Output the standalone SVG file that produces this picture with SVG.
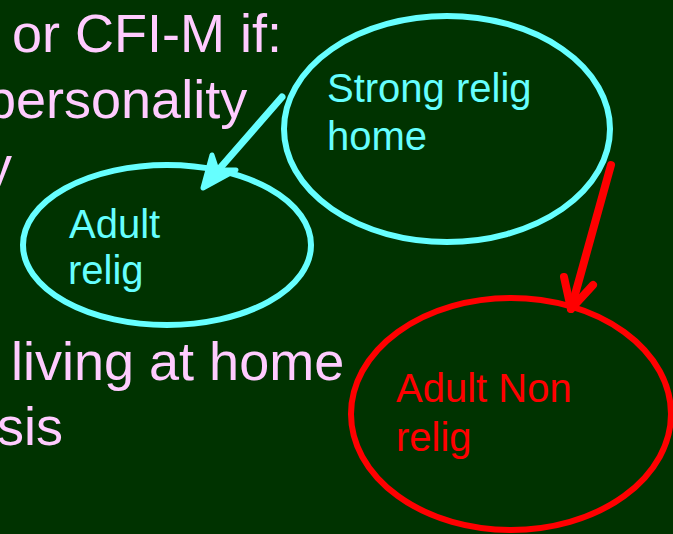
<svg xmlns="http://www.w3.org/2000/svg" width="673" height="534" viewBox="0 0 673 534">
<style>
.bg{fill:#003300}
.slide{font-family:"Liberation Sans",Arial,sans-serif;font-size:54px;fill:#FFCCFF}
.lbl{font-family:"Liberation Sans",Arial,sans-serif;font-size:40px}
.cy{fill:#66FFFF}
.rd{fill:#FF0000}
.ecy{fill:none;stroke:#66FFFF;stroke-width:6}
.erd{fill:none;stroke:#FF0000;stroke-width:6}
.acy{fill:none;stroke:#66FFFF;stroke-width:7;stroke-linecap:round;stroke-linejoin:round}
.ard{fill:none;stroke:#FF0000;stroke-width:8;stroke-linecap:round;stroke-linejoin:round}
</style>
<rect class="bg" x="0" y="0" width="673" height="534"/>
<g id="slide-text" class="slide">
<text x="12" y="52">or CFI-M if:</text>
<text x="-14" y="118">personality</text>
<text x="-15" y="184">y</text>
<text x="11" y="380">living at home</text>
<text x="-3" y="445">sis</text>
</g>
<g id="strong-relig-home">
<ellipse class="ecy" cx="447" cy="129" rx="163" ry="113"/>
<text class="lbl cy" x="327" y="102">Strong relig</text>
<text class="lbl cy" x="327" y="150">home</text>
</g>
<g id="adult-relig">
<ellipse class="ecy" cx="167" cy="245" rx="144" ry="80"/>
<text class="lbl cy" x="69" y="238">Adult</text>
<text class="lbl cy" x="68" y="284">relig</text>
</g>
<g id="adult-non-relig">
<ellipse class="erd" cx="511" cy="414" rx="160" ry="116"/>
<text class="lbl rd" x="396" y="402">Adult Non</text>
<text class="lbl rd" x="396" y="451">relig</text>
</g>
<g id="connectors">
<line class="acy" x1="282" y1="97" x2="207" y2="183"/>
<polygon points="203,188 212,155 217,170 236,170" fill="#66FFFF" stroke="#66FFFF" stroke-width="5" stroke-linejoin="round"/>
<line class="ard" x1="611" y1="165" x2="571" y2="309"/>
<polyline class="ard" points="564,277 571,309 593,285"/>
</g>
</svg>
